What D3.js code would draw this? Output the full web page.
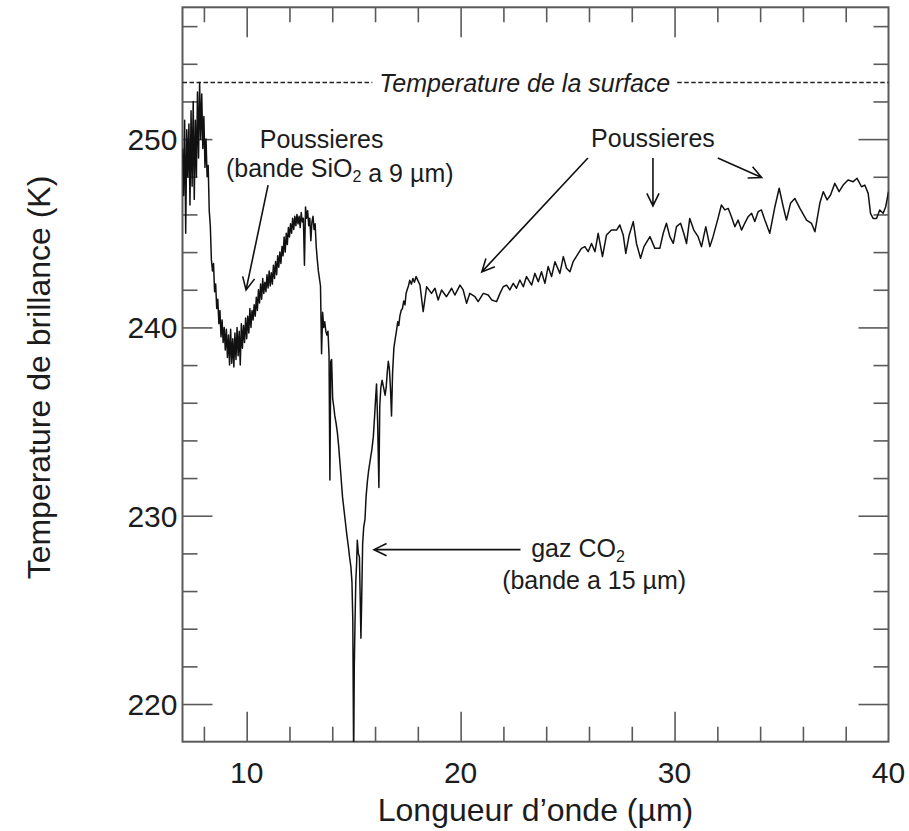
<!DOCTYPE html>
<html>
<head>
<meta charset="utf-8">
<script src="https://cdn.jsdelivr.net/npm/d3@7"></script>
<style>
  html, body { margin: 0; padding: 0; background: #fff; }
  svg { display: block; }
  text { font-family: "Liberation Sans", Arial, Helvetica, sans-serif; fill: #1c1c1c; }
</style>
</head>
<body>
<svg id="chart" width="909" height="831"></svg>
<script>
// Brightness temperature spectrum (wavelength in µm, temperature in K)
const wavelength = [
  7.00,7.05,7.10,7.15,7.20,7.25,7.30,7.35,7.40,7.45,7.50,7.55,7.60,7.65,7.70,7.75,7.80,7.85,7.90,7.95,8.00,8.05,8.10,8.15,
  8.20,8.25,8.30,8.35,8.40,8.45,8.50,8.55,8.60,8.65,8.70,8.75,8.80,8.85,8.90,8.95,9.00,
  9.05,9.10,9.15,9.20,9.25,9.30,9.35,9.40,9.45,9.50,9.55,9.60,9.65,9.70,9.75,9.80,9.85,9.90,9.95,10.00,10.05,10.10,10.15,10.20,10.25,10.30,
  10.35,10.40,10.45,10.50,10.55,10.60,10.65,10.70,10.75,10.80,10.85,10.90,10.95,11.00,11.05,11.10,11.15,11.20,11.25,11.30,11.35,11.40,11.45,11.50,
  11.55,11.60,11.65,11.70,11.75,11.80,11.85,11.90,11.95,12.00,12.05,12.10,12.15,12.20,12.25,12.30,12.35,12.40,12.45,12.50,12.55,12.60,12.65,12.70,
  12.75,12.80,12.85,12.90,12.95,13.00,13.05,13.10,13.15,13.20,13.25,13.30,13.35,13.40,13.45,13.50,13.55,13.60,13.65,13.70,13.75,13.80,13.85,13.89,
  13.93,13.97,14.02,14.07,14.12,14.18,14.24,14.30,14.36,14.42,14.48,14.55,14.62,14.68,14.75,14.81,14.87,14.92,14.96,15.00,15.03,15.06,15.10,15.14,
  15.17,15.22,15.27,15.30,15.34,15.37,15.42,15.47,15.53,15.58,15.64,15.70,15.78,15.85,15.92,15.98,16.03,16.07,16.12,16.18,16.22,16.27,16.33,16.40,
  16.47,16.52,16.57,16.62,16.67,16.72,16.77,16.82,16.88,16.93,17.00,17.06,17.11,17.16,17.22,17.28,17.34,17.40,17.45,17.50,17.56,17.62,17.70,17.77,
  17.84,17.92,18.00,18.10,18.25,18.41,18.64,18.80,18.95,19.11,19.34,19.58,19.73,19.97,20.12,20.28,20.43,20.67,20.82,21.06,21.29,21.45,21.68,21.84,
  21.99,22.15,22.30,22.46,22.61,22.77,22.93,23.08,23.32,23.47,23.63,23.78,23.94,24.09,24.25,24.41,24.64,24.80,24.95,25.11,25.26,25.50,25.65,25.81,
  25.96,26.12,26.28,26.43,26.63,26.82,27.05,27.29,27.44,27.60,27.72,27.88,28.07,28.22,28.41,28.57,28.85,29.08,29.31,29.47,29.62,29.78,29.94,30.09,
  30.28,30.43,30.56,30.71,30.90,31.10,31.26,31.46,31.65,31.80,32.01,32.19,32.35,32.51,32.66,32.82,32.97,33.13,33.28,33.44,33.60,33.75,33.91,34.06,
  34.22,34.45,34.69,34.89,35.08,35.23,35.42,35.62,35.86,36.17,36.40,36.56,36.79,36.95,37.13,37.29,37.49,37.69,37.88,38.11,38.35,38.53,38.74,38.89,
  39.05,39.16,39.28,39.44,39.59,39.75,39.87,40.00
];
const brightnessTemp = [
  249.5,247.0,251.0,245.0,250.5,248.0,250.8,246.5,251.5,247.5,252.0,246.8,251.0,248.0,252.5,249.0,253.0,250.0,252.4,249.5,251.2,248.5,250.0,248.0,
  248.6,246.2,245.4,243.6,243.0,243.4,241.9,242.3,241.0,241.5,240.2,240.9,239.5,240.4,239.2,240.0,238.8,
  239.9,238.4,239.6,238.0,239.9,238.1,239.4,237.9,239.7,238.3,240.0,238.5,239.8,238.0,240.2,238.9,240.1,239.2,240.5,239.4,240.6,239.7,241.0,240.0,240.9,240.4,
  241.2,240.6,241.6,240.9,242.0,241.3,242.3,241.5,242.6,241.8,242.4,241.9,242.8,242.1,243.0,242.2,242.9,242.3,243.3,242.6,243.5,242.8,243.8,243.2,
  244.0,243.4,244.3,243.8,244.8,244.0,245.0,244.4,245.3,244.8,245.5,245.0,245.8,245.2,245.9,245.4,246.0,245.5,245.9,245.3,246.1,245.6,245.8,243.3,
  246.4,245.8,246.2,245.4,245.8,244.6,245.6,245.9,245.2,245.5,244.3,243.6,243.0,242.6,242.2,238.6,240.8,240.0,240.3,239.8,239.6,239.8,238.5,231.9,
  238.2,238.3,236.2,235.8,235.3,234.9,234.4,233.7,232.8,231.9,231.0,230.3,229.6,229.0,228.4,227.8,227.3,226.5,224.5,217.0,222.0,224.1,226.5,227.5,
  228.7,228.0,227.8,226.0,223.5,225.2,228.5,229.4,229.8,231.0,231.8,232.4,233.0,233.5,234.2,235.3,236.3,237.0,235.0,231.5,235.8,236.8,237.2,236.8,
  236.4,236.8,237.6,238.2,237.8,236.8,235.3,237.6,238.9,239.3,239.8,240.3,240.1,240.6,240.9,241.0,241.4,241.2,241.8,242.0,242.2,242.5,242.3,242.6,
  242.4,242.7,242.5,242.25,240.84,242.16,241.81,242.08,241.46,241.99,241.63,242.08,241.72,242.25,241.99,241.28,241.81,241.63,241.37,241.81,241.72,241.46,241.37,241.81,
  242.16,242.25,241.99,242.34,242.08,242.52,242.16,242.70,242.25,242.87,242.43,242.96,242.34,243.23,242.70,243.49,242.87,243.76,243.14,242.96,243.49,243.93,244.20,244.29,
  244.02,244.46,244.02,245.00,243.76,244.91,245.17,245.17,245.44,244.91,243.93,244.91,245.62,244.46,243.67,244.29,244.82,244.20,244.20,245.00,245.53,244.82,244.46,245.35,
  245.53,245.00,244.46,245.79,245.17,244.82,244.29,245.35,244.29,244.82,245.70,246.50,246.24,246.32,245.88,245.35,245.70,245.17,245.53,245.88,246.06,245.62,246.15,246.24,
  245.70,245.00,246.41,247.39,246.41,245.70,246.59,246.85,246.32,245.70,245.53,245.08,246.59,247.21,246.77,247.03,247.65,247.21,247.56,247.83,247.74,247.92,247.47,247.56,
  247.12,246.06,245.79,245.79,246.24,246.06,246.41,247.21
];

const surfaceTemp = 253;
const xMajorTicks = [10, 20, 30, 40];
const xMinorTicks = [8, 12, 14, 16, 18, 22, 24, 26, 28, 32, 34, 36, 38];
const yMajorTicks = [220, 230, 240, 250];
const yMinorTicks = [222, 224, 226, 228, 232, 234, 236, 238, 242, 244, 246, 248, 252, 254, 256];

const xTitle = "Longueur d\u2019onde (\u00b5m)";
const yTitle = "Temperature de brillance (K)";

const svg = d3.select("#chart");
const box = { left: 182.5, right: 888.5, top: 7.3, bottom: 741.7 };

const x = d3.scaleLinear().domain([7, 40]).range([box.left, box.right]);
const y = d3.scaleLinear().domain([218, 257]).range([box.bottom, box.top]);

const axisColor = "#5a5a5a";
const majorLen = 30, minorLen = 15;

svg.append("clipPath").attr("id", "plot-clip")
  .append("rect")
  .attr("x", x(7)).attr("y", y(257))
  .attr("width", x(40) - x(7)).attr("height", y(218) - y(257));

// Inward ticks on all four sides
function tickGroup(axis, tx, ty) {
  const g = svg.append("g").attr("transform", `translate(${tx},${ty})`).call(axis);
  g.select(".domain").remove();
  g.selectAll(".tick line").attr("stroke", axisColor).attr("stroke-width", 1.6);
  return g;
}
[[d3.axisBottom, box.bottom], [d3.axisTop, box.top]].forEach(([mk, ty]) => {
  tickGroup(mk(x).tickValues(xMinorTicks).tickSize(-minorLen).tickFormat(""), 0, ty);
  tickGroup(mk(x).tickValues(xMajorTicks.filter(v => v < 40)).tickSize(-majorLen).tickFormat(""), 0, ty);
});
[[d3.axisLeft, box.left], [d3.axisRight, box.right]].forEach(([mk, tx]) => {
  tickGroup(mk(y).tickValues(yMinorTicks).tickSize(-minorLen).tickFormat(""), tx, 0);
  tickGroup(mk(y).tickValues(yMajorTicks).tickSize(-majorLen).tickFormat(""), tx, 0);
});

// Frame
svg.append("rect")
  .attr("x", box.left).attr("y", box.top)
  .attr("width", box.right - box.left).attr("height", box.bottom - box.top)
  .attr("fill", "none").attr("stroke", axisColor).attr("stroke-width", 2);

// Tick labels
svg.append("g").selectAll("text").data(xMajorTicks).join("text")
  .attr("x", d => x(d)).attr("y", 783)
  .attr("text-anchor", "middle").attr("font-size", 30)
  .text(d => d);
svg.append("g").selectAll("text").data(yMajorTicks).join("text")
  .attr("x", box.left - 5).attr("y", d => y(d)).attr("dy", "0.36em")
  .attr("text-anchor", "end").attr("font-size", 30)
  .text(d => d);

// Axis titles
svg.append("text")
  .attr("x", (box.left + box.right) / 2).attr("y", 821)
  .attr("text-anchor", "middle").attr("font-size", 32)
  .text(xTitle);
svg.append("text")
  .attr("transform", `translate(50,${(box.top + box.bottom) / 2 + 3}) rotate(-90)`)
  .attr("text-anchor", "middle").attr("font-size", 32)
  .text(yTitle);

// Surface temperature reference line with its label
const surfLabel = svg.append("text")
  .attr("x", x(23.0)).attr("y", y(surfaceTemp)).attr("dy", "0.36em")
  .attr("text-anchor", "middle").attr("font-size", 25).attr("font-style", "italic")
  .text("Temperature de la surface");
const lw = surfLabel.node().getComputedTextLength();
const gap = 7;
[[x(7), x(23.0) - lw / 2 - gap], [x(23.0) + lw / 2 + gap, x(40)]].forEach(([a, b]) => {
  svg.append("line")
    .attr("x1", a).attr("x2", b).attr("y1", y(surfaceTemp)).attr("y2", y(surfaceTemp))
    .attr("stroke", "#222").attr("stroke-width", 1.5).attr("stroke-dasharray", "4.5,2.5");
});

// Spectrum
const spectrum = d3.zip(wavelength, brightnessTemp);
svg.append("path")
  .datum(spectrum)
  .attr("clip-path", "url(#plot-clip)")
  .attr("fill", "none").attr("stroke", "#111").attr("stroke-width", 1.5)
  .attr("stroke-linejoin", "round")
  .attr("d", d3.line().x(d => x(d[0])).y(d => y(d[1])));

// Annotations
const ann = svg.append("g");
function arrow(w1, t1, w2, t2) {
  const x1 = x(w1), y1 = y(t1), x2 = x(w2), y2 = y(t2);
  const a = Math.atan2(y2 - y1, x2 - x1), L = 14, h = 0.45;
  ann.append("path")
    .attr("d", `M${x1},${y1}L${x2},${y2}` +
      `M${x2 - L * Math.cos(a - h)},${y2 - L * Math.sin(a - h)}L${x2},${y2}` +
      `L${x2 - L * Math.cos(a + h)},${y2 - L * Math.sin(a + h)}`)
    .attr("fill", "none").attr("stroke", "#111").attr("stroke-width", 1.6);
}
function label(w, t, parts, anchor = "middle") {
  const tx = ann.append("text").attr("x", x(w)).attr("y", y(t))
    .attr("text-anchor", anchor).attr("font-size", 25);
  parts.forEach(p => {
    if (typeof p === "string") tx.append("tspan").text(p);
    else {
      tx.append("tspan").attr("dy", 5).attr("font-size", 16).text(p.sub);
      tx.append("tspan").attr("dy", -5).text("");
    }
  });
}

// SiO2 dust band
label(13.5, 249.53, ["Poussieres"]);
label(14.35, 248.0, ["(bande SiO", { sub: "2" }, " a 9 \u00b5m)"]);
arrow(11.0, 247.56, 9.97, 241.99);

// Dust continuum
label(28.99, 249.57, ["Poussieres"]);
arrow(25.95, 249.0, 20.99, 242.95);
arrow(28.99, 249.0, 28.99, 246.45);
arrow(32.02, 249.0, 34.07, 247.96);

// CO2 gas band
label(23.3, 227.8, ["gaz CO", { sub: "2" }], "start");
label(26.24, 226.1, ["(bande a 15 \u00b5m)"]);
arrow(22.8, 228.2, 15.95, 228.2);
</script>
</body>
</html>
